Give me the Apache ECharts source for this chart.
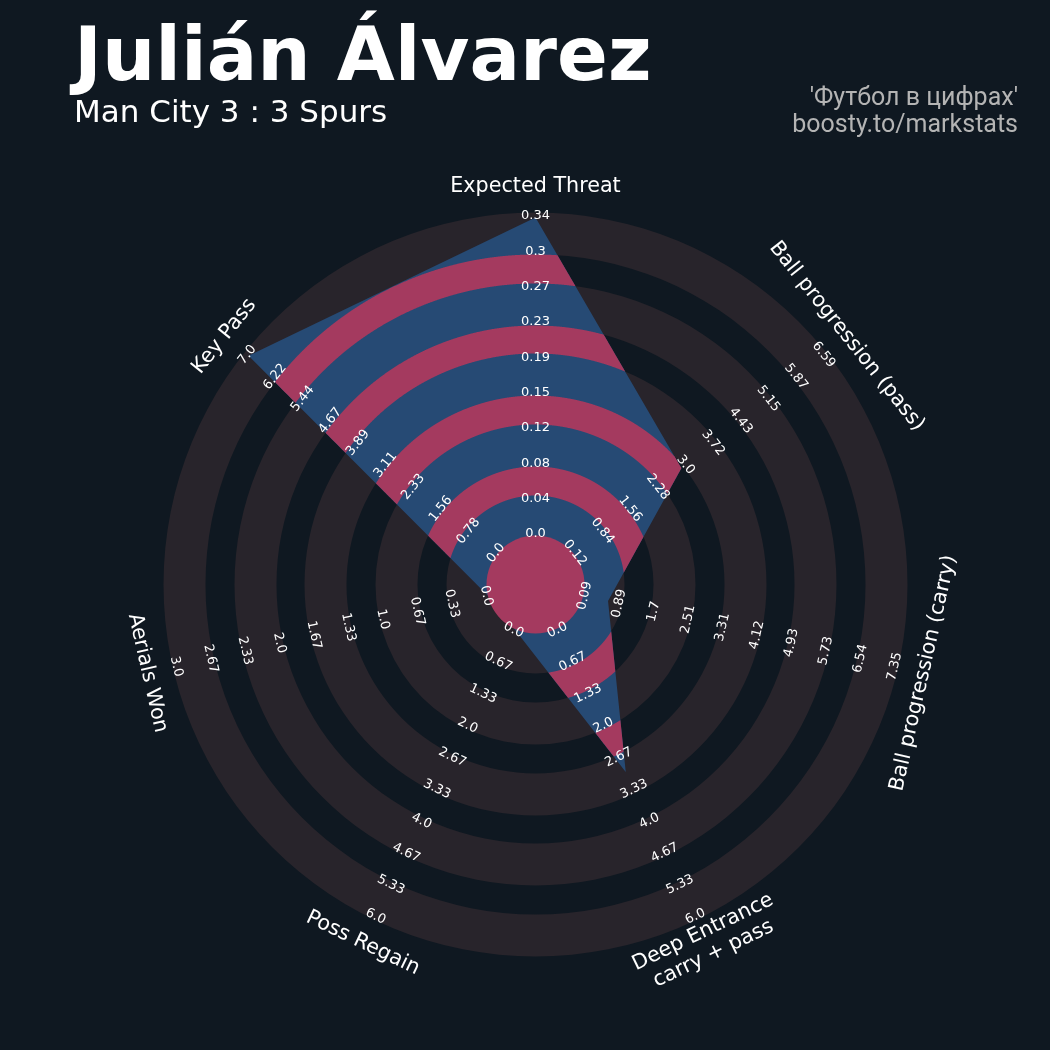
<!DOCTYPE html>
<html>
<head>
<meta charset="utf-8">
<title>Julián Álvarez — radar</title>
<script src="https://cdn.jsdelivr.net/npm/echarts@6/dist/echarts.min.js"></script>
<style>
  html, body { margin: 0; padding: 0; background: #0f1821; }
  #chart { width: 1050px; height: 1050px; }
</style>
</head>
<body>
<div id="chart"></div>
<script>
// ---- data -------------------------------------------------------------
// Radar parameters, clockwise from the top
const params = [
  'Expected Threat',
  'Ball progression (pass)',
  'Ball progression (carry)',
  'Deep Entrance\ncarry + pass',
  'Poss Regain',
  'Aerials Won',
  'Key Pass'
];
const minRange = [0.0, 0.12, 0.09, 0.0, 0.0, 0.0, 0.0];
const maxRange = [0.34, 6.59, 7.35, 6.0, 6.0, 3.0, 7.0];
const values   = [0.34, 2.92, 0.67, 3.0, 0.0, 0.0, 7.0];
// Range labels along each axis, from the centre outwards
const rangeLabels = [
  ['0.0', '0.04', '0.08', '0.12', '0.15', '0.19', '0.23', '0.27', '0.3', '0.34'],
  ['0.12', '0.84', '1.56', '2.28', '3.0', '3.72', '4.43', '5.15', '5.87', '6.59'],
  ['0.09', '0.89', '1.7', '2.51', '3.31', '4.12', '4.93', '5.73', '6.54', '7.35'],
  ['0.0', '0.67', '1.33', '2.0', '2.67', '3.33', '4.0', '4.67', '5.33', '6.0'],
  ['0.0', '0.67', '1.33', '2.0', '2.67', '3.33', '4.0', '4.67', '5.33', '6.0'],
  ['0.0', '0.33', '0.67', '1.0', '1.33', '1.67', '2.0', '2.33', '2.67', '3.0'],
  ['0.0', '0.78', '1.56', '2.33', '3.11', '3.89', '4.67', '5.44', '6.22', '7.0']
];
const titleText = 'Julián Álvarez';
const subtitleText = 'Man City 3 : 3 Spurs';
const creditLines = ["'Футбол в цифрах'", 'boosty.to/markstats'];

// ---- geometry (radial units on the hidden x/y axes) --------------------
const R_OUT = 372;     // outer edge of the ring stack
const R_MIN = 49;      // radius of a range minimum (centre circle edge)
const R_MAX = 367;     // radius of a range maximum
const SHADED = [[49, 89], [118, 160], [189, 231], [259, 301], [330, 372]];
const GAPS = [[89, 118], [160, 189], [231, 259], [301, 330]];
const LABEL_R = 398;

const COLORS = {
  bg: '#0f1821',
  ring: '#28242b',
  radar: '#264a74',
  inner: '#a43a5f',
  text: '#ffffff',
  credit: '#b4b4b4'
};

const N = params.length;
const STEP = 360 / N;
const rad = d => d * Math.PI / 180;
// phi: clockwise degrees from the top
const toXY = (r, phi) => [r * Math.sin(rad(phi)), r * Math.cos(rad(phi))];

function valueRadius(i, v) {
  let f = (v - minRange[i]) / (maxRange[i] - minRange[i]);
  f = Math.max(0, Math.min(1, f));
  return R_MIN + f * (R_MAX - R_MIN);
}
const vertexR = values.map((v, i) => valueRadius(i, v));
const vertices = vertexR.map((r, i) => toXY(r, i * STEP));

// distance from the centre to the radar outline in direction phi
function polyRadius(phi) {
  const p = ((phi % 360) + 360) % 360;
  const i = Math.floor(p / STEP) % N;
  const A = vertices[i], B = vertices[(i + 1) % N];
  const dx = Math.sin(rad(p)), dy = Math.cos(rad(p));
  const ex = B[0] - A[0], ey = B[1] - A[1];
  return (A[0] * ey - A[1] * ex) / (dx * ey - dy * ex);
}

// parts of the band a<r<b lying inside the radar outline, as polar point lists
function clippedBand(a, b) {
  let start = 0, minR = Infinity;
  vertexR.forEach((r, i) => { if (r < minR) { minR = r; start = i * STEP; } });
  const n = 3600, d = 360 / n;
  if (minR > a) {
    const outer = [], inner = [];
    for (let k = 0; k <= n; k++) {
      outer.push([Math.min(b, polyRadius(k * d)), k * d]);
      inner.push([a, 360 - k * d]);
    }
    return [outer.concat(inner)];
  }
  const inside = phi => polyRadius(phi) > a;
  const edge = (p0, p1) => {
    let lo = p0, hi = p1;
    const s0 = inside(lo);
    for (let it = 0; it < 40; it++) {
      const m = (lo + hi) / 2;
      if (inside(m) === s0) lo = m; else hi = m;
    }
    return (lo + hi) / 2;
  };
  const runs = [];
  let run = null;
  for (let k = 0; k <= n; k++) {
    const phi = start + k * d;
    const ins = inside(phi);
    if (ins && !run) run = [edge(phi - d, phi)];
    if (ins) run.push(phi);
    if (!ins && run) { run.push(edge(phi - d, phi)); runs.push(run); run = null; }
  }
  if (run) runs.push(run);
  return runs.map(list => {
    const outer = list.map(phi => [Math.min(b, polyRadius(phi)), phi]);
    const inner = list.slice().reverse().map(phi => [a, phi]);
    return outer.concat(inner);
  });
}

// text rotation that keeps every label readable
function readableRotation(phi) {
  let deg = -phi; // tangent direction, counter-clockwise degrees
  while (deg <= -180) deg += 360;
  while (deg > 180) deg -= 360;
  if (deg < -90) deg += 180;
  if (deg > 90) deg -= 180;
  return rad(deg);
}

const chart = echarts.init(document.getElementById('chart'), null, { renderer: 'canvas' });

const ringItems = SHADED.map(b => b);
const gapItems = GAPS.map(b => b);
const tickItems = [];
rangeLabels.forEach((labels, i) => labels.forEach((t, k) => tickItems.push([i, k])));
const paramItems = params.map((p, i) => [i]);

chart.setOption({
  backgroundColor: COLORS.bg,
  animation: false,
  grid: { left: 163.5, top: 212.5, width: 744, height: 744, show: false },
  xAxis: { type: 'value', min: -R_OUT, max: R_OUT, show: false },
  yAxis: { type: 'value', min: -R_OUT, max: R_OUT, show: false },
  graphic: [
    { type: 'text', x: 74, y: 61, silent: true,
      style: { text: titleText, fontFamily: 'DejaVu Sans', fontWeight: 'bold', fontSize: 75,
               fill: COLORS.text, verticalAlign: 'middle' } },
    { type: 'text', x: 74, y: 114, silent: true,
      style: { text: subtitleText, fontFamily: 'DejaVu Sans', fontSize: 31,
               fill: COLORS.text, verticalAlign: 'middle' } },
    { type: 'text', x: 1018, y: 99, silent: true,
      style: { text: creditLines[0], fontFamily: 'Roboto', fontSize: 25,
               fill: COLORS.credit, align: 'right', verticalAlign: 'middle' } },
    { type: 'text', x: 1018, y: 126, silent: true,
      style: { text: creditLines[1], fontFamily: 'Roboto', fontSize: 25,
               fill: COLORS.credit, align: 'right', verticalAlign: 'middle' } }
  ],
  series: [
    { // shaded ring bands
      type: 'custom', name: 'rings', silent: true, z: 1,
      data: ringItems,
      renderItem: (params, api) => {
        const c = api.coord([0, 0]);
        const r0 = api.size([api.value(0), 0])[0];
        const r1 = api.size([api.value(1), 0])[0];
        return { type: 'ring', shape: { cx: c[0], cy: c[1], r0: r0, r: r1 },
                 style: { fill: COLORS.ring } };
      }
    },
    { // radar outline
      type: 'custom', name: 'radar', silent: true, z: 2,
      data: [[0]],
      renderItem: (params, api) => ({
        type: 'polygon',
        shape: { points: vertices.map(p => api.coord(p)) },
        style: { fill: COLORS.radar }
      })
    },
    { // in-between bands, clipped to the radar outline
      type: 'custom', name: 'inner rings', silent: true, z: 3,
      data: gapItems,
      renderItem: (params, api) => {
        const pieces = clippedBand(api.value(0), api.value(1));
        return {
          type: 'group',
          children: pieces.map(pts => ({
            type: 'polygon',
            shape: { points: pts.map(([r, phi]) => api.coord(toXY(r, phi))) },
            style: { fill: COLORS.inner }
          }))
        };
      }
    },
    { // centre circle
      type: 'custom', name: 'centre', silent: true, z: 4,
      data: [[0]],
      renderItem: (params, api) => {
        const c = api.coord([0, 0]);
        return { type: 'circle', shape: { cx: c[0], cy: c[1], r: api.size([R_MIN, 0])[0] },
                 style: { fill: COLORS.inner } };
      }
    },
    { // range labels
      type: 'custom', name: 'range labels', silent: true, z: 5,
      data: tickItems,
      renderItem: (params, api) => {
        const i = api.value(0), k = api.value(1);
        const phi = i * STEP;
        const r = R_MIN + k * (R_MAX - R_MIN) / (rangeLabels[i].length - 1) + 1.5;
        const p = api.coord(toXY(r, phi));
        return { type: 'text', x: p[0], y: p[1], rotation: readableRotation(phi),
                 style: { text: rangeLabels[i][k], fontFamily: 'DejaVu Sans', fontSize: 13,
                          fill: COLORS.text, align: 'center', verticalAlign: 'middle' } };
      }
    },
    { // parameter names
      type: 'custom', name: 'params', silent: true, z: 5,
      data: paramItems,
      renderItem: (p, api) => {
        const i = api.value(0);
        const phi = i * STEP;
        const pt = api.coord(toXY(LABEL_R, phi));
        return { type: 'text', x: pt[0], y: pt[1], rotation: readableRotation(phi),
                 style: { text: params[i], fontFamily: 'DejaVu Sans', fontSize: 20.7,
                          lineHeight: 24, fill: COLORS.text, align: 'center', verticalAlign: 'middle' } };
      }
    }
  ]
});
</script>
</body>
</html>
